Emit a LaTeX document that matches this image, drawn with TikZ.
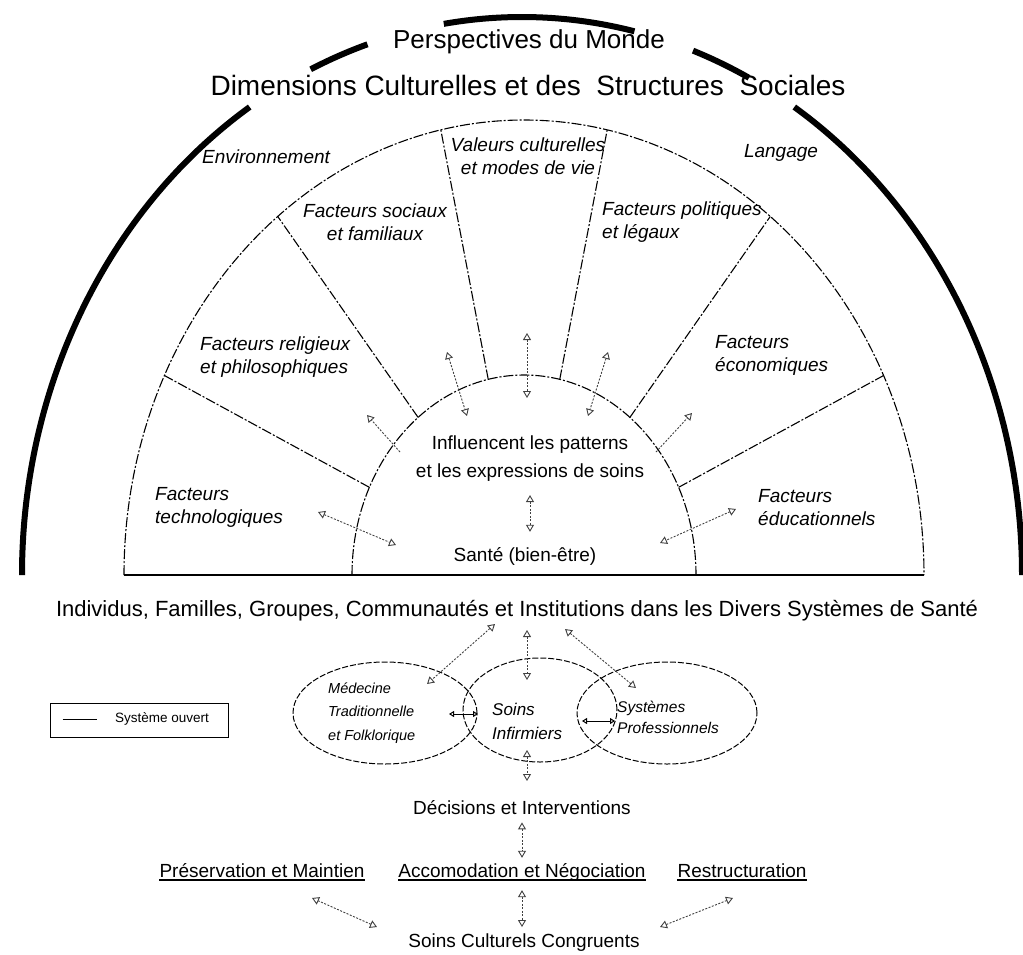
\documentclass[tikz,border=0pt]{standalone}
\usepackage{fontspec}
\setmainfont{Liberation Sans}
\usetikzlibrary{arrows.meta,shapes.geometric}

\newcommand\fsz[2]{\fontsize{#1}{#2}\selectfont}

\begin{document}
\begin{tikzpicture}[x=1pt,y=-1pt,
  sector/.style={line width=1.1pt,dash pattern=on 10pt off 2pt on 2pt off 2pt},
  factor/.style={font=\fsz{19}{23}\itshape,align=left,inner sep=0pt,anchor=west},
  bodytxt/.style={font=\fsz{19}{28},align=center,inner sep=0pt},
  sysell/.style={ellipse,draw,line width=1pt,dash pattern=on 6pt off 2pt,inner sep=0pt},
  dbl/.style={line width=0.9pt,dash pattern=on 2pt off 1.5pt,black!75,
    {Triangle[open,length=7pt,width=8pt]}-{Triangle[open,length=7pt,width=8pt]}},
  sgl/.style={line width=0.9pt,dash pattern=on 2pt off 1.5pt,black!75,
    -{Triangle[open,length=7pt,width=8pt]}},
  link/.style={line width=1pt,
    {Triangle[open,length=5pt,width=6pt]}-{Triangle[open,length=5pt,width=6pt]}},
  uline/.style={line width=1.6pt},
]
\useasboundingbox (0,0) rectangle (1023,954);

% world view arc, broken around the titles
\coordinate (w) at (522,575);
\foreach \s/\e in {180/237,245/252,261/283,290/297,303/360}
  \draw[line width=6pt] ([shift={(\s:500 and 558)}]w)
    arc[start angle=\s,end angle=\e,x radius=500,y radius=558];
\node[font=\fsz{26}{30}] (monde) at (529,42) {Perspectives du Monde};
\node[font=\fsz{28}{32}] (dims) at (528,85)
  {Dimensions Culturelles et des\ \ Structures\ \ Sociales};

% sunrise sectors
\coordinate (c) at (524,575);
\draw[sector] ([shift={(180:400 and 455)}]c)
  arc[start angle=180,end angle=360,x radius=400,y radius=455];
\draw[sector] ([shift={(180:172 and 200)}]c)
  arc[start angle=180,end angle=360,x radius=172,y radius=200];
\draw[line width=2.2pt] ([shift={(180:400 and 455)}]c) -- ([shift={(0:400 and 455)}]c);
\foreach \a in {206,232,258,282,308,334}
  \draw[sector] ([shift={(\a:172 and 200)}]c) -- ([shift={(\a:400 and 455)}]c);

\node[factor] (env) at (202,157) {Environnement};
\node[factor,anchor=center] (lang) at (781,153) {Langage};
\node[factor,align=center,anchor=center] (valeurs) at (528,156) {Valeurs culturelles\\et modes de vie};
\node[factor,align=center,anchor=center] (sociaux) at (375,222) {Facteurs sociaux\\et familiaux};
\node[factor] (polit) at (602,222) {Facteurs politiques\\et légaux};
\node[factor] (relig) at (200,357) {Facteurs religieux\\et philosophiques};
\node[factor] (econ) at (715,355) {Facteurs\\économiques};
\node[factor] (techno) at (155,507) {Facteurs\\technologiques};
\node[factor] (educ) at (758,508) {Facteurs\\éducationnels};

\node[bodytxt] (infl) at (530,459) {Influencent les patterns\\et les expressions de soins};
\node[bodytxt,anchor=base] (sante) at (525,561) {Santé (bien-être)};
\draw[dbl,shorten <=13pt,shorten >=15pt] (infl.south) -- (infl.south |- sante.north);

% influences between factors and care
\coordinate (s1a) at (367,415); \coordinate (s1b) at (400,452);
\coordinate (s2a) at (447,352); \coordinate (s2b) at (467,416);
\coordinate (s3a) at (527,333); \coordinate (s3b) at (527,398);
\coordinate (s4a) at (608,352); \coordinate (s4b) at (588,416);
\coordinate (s5a) at (692,413); \coordinate (s5b) at (656,452);
\coordinate (s6a) at (318,512); \coordinate (s6b) at (396,545);
\coordinate (s7a) at (736,509); \coordinate (s7b) at (660,543);
\draw[sgl] (s1b) -- (s1a);
\draw[sgl] (s5b) -- (s5a);
\foreach \p/\q in {s2a/s2b,s3a/s3b,s4a/s4b,s6a/s6b,s7a/s7b}
  \draw[dbl] (\p) -- (\q);

% health systems
\node[bodytxt,font=\fsz{22}{26},anchor=base] (indiv) at (517,616)
  {Individus, Familles, Groupes, Communautés et Institutions dans les Divers Systèmes de Santé};

\node[sysell,minimum width=184,minimum height=102] (med) at (385,713) {};
\node[sysell,minimum width=154,minimum height=104] (soins) at (540,710) {};
\node[sysell,minimum width=180,minimum height=102] (syst) at (667,713) {};
\node[factor,font=\fsz{14.5}{23.5}\itshape] (medtxt) at (328,713) {Médecine\\Traditionnelle\\et Folklorique};
\node[factor,font=\fsz{17}{24}\itshape] (soinstxt) at (492,721) {Soins\\Infirmiers};
\node[factor,font=\fsz{15.5}{21}\itshape] (systxt) at (617,717) {Systèmes\\Professionnels};

\coordinate (i1) at (495,624); \coordinate (i2) at (427,684);
\coordinate (j1) at (527,630); \coordinate (j2) at (527,680);
\coordinate (k1) at (565,629); \coordinate (k2) at (636,688);
\draw[dbl] (i1) -- (i2);
\draw[dbl] (j1) -- (j2);
\draw[dbl] (k1) -- (k2);
\coordinate (l1) at (449,714); \coordinate (l2) at (478,714);
\coordinate (m1) at (582,721); \coordinate (m2) at (615,721);
\draw[link] (l1) -- (l2);
\draw[link] (m1) -- (m2);

% legend
\node[draw,line width=1pt,minimum width=178,minimum height=34,inner sep=0pt] (legend) at (139,720) {};
\draw[line width=1pt] ([xshift=13pt,yshift=1pt]legend.west) -- ++(34,0);
\node[font=\fsz{13.5}{15},anchor=west,inner sep=0pt] (legtxt) at (115,719) {Système ouvert};

% decisions and actions
\node[bodytxt,anchor=base] (dec) at (522,814) {Décisions et Interventions};
\coordinate (n1) at (527,750); \coordinate (n2) at (527,781);
\draw[dbl] (n1) -- (n2);
\node[bodytxt,anchor=base] (pres) at (262,877) {Préservation et Maintien};
\node[bodytxt,anchor=base] (acc) at (522,877) {Accomodation et Négociation};
\node[bodytxt,anchor=base] (restr) at (742,877) {Restructuration};
\foreach \n in {pres,acc,restr}
  \draw[uline] ([yshift=-3pt]\n.base west) -- ([yshift=-3pt]\n.base east);
\draw[dbl,shorten <=8pt,shorten >=5pt] (dec.south -| acc.north) -- (acc.north);

\node[bodytxt,anchor=base] (scc) at (524,947) {Soins Culturels Congruents};
\draw[dbl,shorten <=9pt,shorten >=6pt] (acc.south) -- (acc.south |- scc.north);
\coordinate (q1) at (377,927); \coordinate (q2) at (312,898);
\coordinate (r1) at (660,927); \coordinate (r2) at (733,898);
\draw[dbl] (q1) -- (q2);
\draw[dbl] (r1) -- (r2);
\end{tikzpicture}
\end{document}
